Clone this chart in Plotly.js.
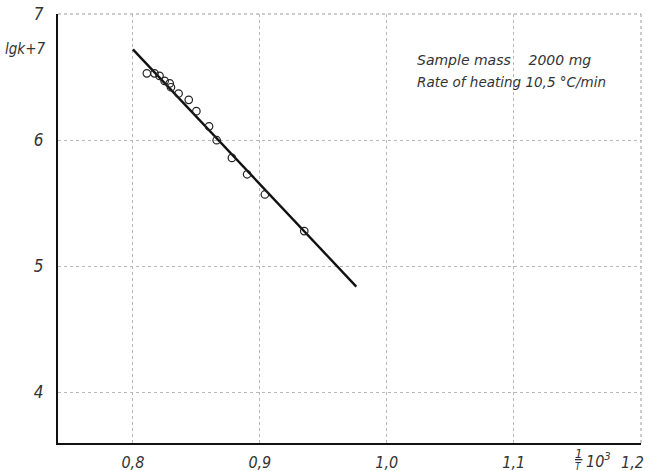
<!DOCTYPE html>
<html>
<head>
<meta charset="utf-8">
<script src="https://cdn.plot.ly/plotly-3.0.1.min.js"></script>
<style>
  html, body { margin: 0; padding: 0; background: #fff; }
  #chart { width: 649px; height: 471px; }
</style>
</head>
<body>
<div id="chart"></div>
<script>
// Measured points: reciprocal temperature (1/T·10^3) vs lg k + 7
const invT = [0.811, 0.817, 0.821, 0.825, 0.829, 0.830, 0.836, 0.844, 0.850, 0.860, 0.866, 0.878, 0.890, 0.904, 0.935];
const lgk7 = [6.53, 6.53, 6.51, 6.47, 6.45, 6.42, 6.37, 6.32, 6.23, 6.11, 6.00, 5.86, 5.73, 5.57, 5.28];

// Straight-line fit through the points
const fitX = [0.800, 0.976];
const fitY = [6.72, 4.84];

// Axis ticks (decimal comma)
const xTickVals = [0.8, 0.9, 1.0, 1.1, 1.2];
const xTickText = ['0,8', '0,9', '1,0', '1,1', '1,2'];
const yTickVals = [4, 5, 6, 7];
const yTickText = ['4', '5', '6', '7'];

// Narrow italic lettering for numbers, regular italic for the notes
const numFont = { family: 'Liberation Sans Narrow, DejaVu Sans Condensed, sans-serif', size: 16, color: '#333', style: 'italic' };
const inkFont = { family: 'DejaVu Sans, sans-serif', size: 13, color: '#333', style: 'italic' };
const withSize = (f, s) => Object.assign({}, f, { size: s });

// The last x label sits at the right edge, so it is right-aligned as an annotation
const lastX = xTickVals.length - 1;
const xAxisText = xTickText.map((t, i) => (i === lastX ? ' ' : t));

const traces = [
  {
    x: fitX, y: fitY, mode: 'lines', type: 'scatter',
    line: { color: '#111', width: 2.4 }, hoverinfo: 'skip'
  },
  {
    x: invT, y: lgk7, mode: 'markers', type: 'scatter',
    marker: { symbol: 'circle-open', size: 7.5, color: '#222', line: { width: 1.2, color: '#222' } }
  }
];

const layout = {
  width: 649, height: 471,
  margin: { l: 58, r: 8, t: 14, b: 28 },
  paper_bgcolor: '#fff', plot_bgcolor: '#fff',
  showlegend: false,
  xaxis: {
    range: [0.741, 1.2003],
    tickvals: xTickVals, ticktext: xAxisText,
    ticks: '', tickfont: numFont,
    ticklabelstandoff: 4,
    showgrid: true, gridcolor: '#b8b8b8', griddash: 'dot', gridwidth: 1,
    showline: true, linecolor: '#111', linewidth: 2,
    zeroline: false, fixedrange: true
  },
  yaxis: {
    range: [3.6, 7.0005],
    tickvals: yTickVals, ticktext: yTickText,
    ticks: '', tickfont: withSize(numFont, 17),
    ticklabelstandoff: 9, ticklabeloverflow: 'allow',
    showgrid: true, gridcolor: '#b8b8b8', griddash: 'dot', gridwidth: 1,
    showline: true, linecolor: '#111', linewidth: 2,
    zeroline: false, fixedrange: true
  },
  shapes: [
    { type: 'line', xref: 'paper', yref: 'paper', x0: 0, x1: 1, y0: 1, y1: 1,
      line: { color: '#999', width: 1, dash: 'dot' } },
    { type: 'line', xref: 'paper', yref: 'paper', x0: 1, x1: 1, y0: 0, y1: 1,
      line: { color: '#999', width: 1, dash: 'dot' } }
  ],
  annotations: [
    { xref: 'x', yref: 'paper', x: xTickVals[lastX], y: 0, xanchor: 'right', yanchor: 'top',
      xshift: 5, yshift: -8, text: xTickText[lastX], showarrow: false, font: numFont },
    { xref: 'paper', yref: 'y', x: -0.057, y: 6.72, xanchor: 'center', yanchor: 'middle',
      text: 'lgk+7', showarrow: false, font: withSize(numFont, 15) },
    { xref: 'x', yref: 'y', x: 1.022, y: 6.635, xanchor: 'left', yanchor: 'middle',
      text: 'Sample mass &nbsp;&nbsp;&nbsp;2000 mg', showarrow: false, font: withSize(inkFont, 14) },
    { xref: 'x', yref: 'y', x: 1.022, y: 6.46, xanchor: 'left', yanchor: 'middle',
      text: 'Rate of heating 10,5 °C/min', showarrow: false, font: withSize(inkFont, 13.5) },
    { xref: 'x', yref: 'paper', x: 1.151, y: -0.025, xanchor: 'center', yanchor: 'middle',
      text: '<u>1</u>', showarrow: false, font: withSize(numFont, 13) },
    { xref: 'x', yref: 'paper', x: 1.151, y: -0.054, xanchor: 'center', yanchor: 'middle',
      text: 'T', showarrow: false, font: withSize(numFont, 10) },
    { xref: 'x', yref: 'paper', x: 1.1555, y: -0.040, xanchor: 'left', yanchor: 'middle',
      text: '10<sup>3</sup>', showarrow: false, font: withSize(numFont, 16) }
  ]
};

Plotly.newPlot('chart', traces, layout, { staticPlot: true, displayModeBar: false });
</script>
</body>
</html>
